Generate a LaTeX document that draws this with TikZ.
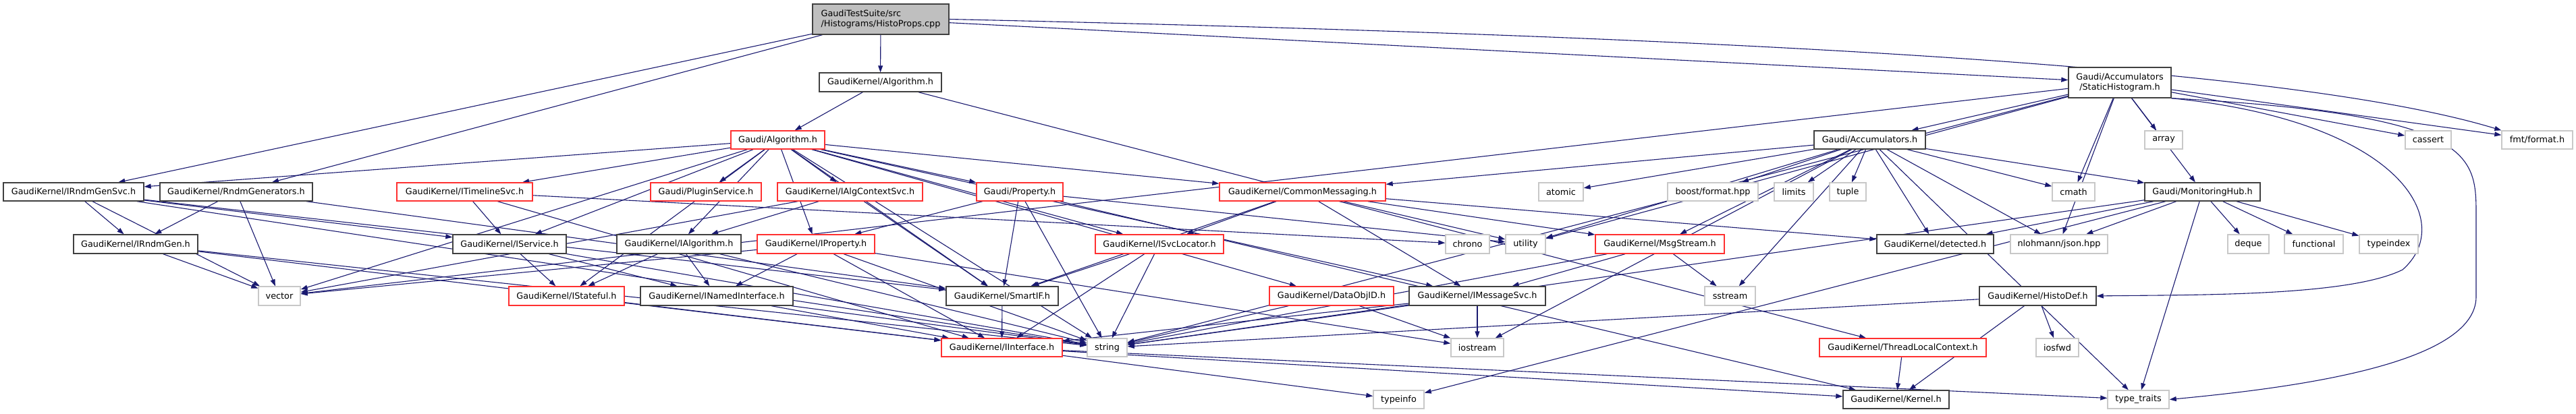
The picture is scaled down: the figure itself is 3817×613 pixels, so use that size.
\documentclass[tikz,border=0pt]{standalone}
\usepackage{fontspec}
\setmainfont{DejaVu Sans}
\usetikzlibrary{arrows.meta}
\definecolor{edgec}{HTML}{191970}
\definecolor{nodeblack}{HTML}{404040}
\definecolor{nodered}{HTML}{FF3030}
\definecolor{nodegray}{HTML}{C8C8C8}
\definecolor{rootfill}{HTML}{BFBFBF}
\newcommand\nf{\fontsize{12.8}{15.5}\selectfont}
\pgfdeclarelayer{bg}
\pgfdeclarelayer{edges}
\pgfsetlayers{bg,edges,main}
\tikzset{
  nb/.style={draw=nodeblack, line width=1.4pt, fill=white, inner sep=0pt, minimum height=27pt, font=\nf, text=black},
  nr/.style={nb, draw=nodered},
  ng/.style={nb, draw=nodegray},
  ed/.style={draw=edgec, line width=1.1pt, -{Triangle[length=10pt,width=7pt]}},
}
\begin{document}
\begin{tikzpicture}[x=1pt,y=-1pt]
\begin{pgfonlayer}{bg}
\fill[white] (0,0) rectangle (3817,613);
\end{pgfonlayer}
\useasboundingbox (0,0) rectangle (3817,613);
% row 0-1
\node[nb, fill=rootfill, minimum width=202pt, minimum height=45pt, align=left] (root) at (1305,28.5) {GaudiTestSuite/src\\/Histograms/HistoProps.cpp};
\node[nb, minimum width=181pt, minimum height=28pt] (gkalg) at (1304.5,122) {GaudiKernel/Algorithm.h};
\node[nb, minimum width=152pt, minimum height=45pt, align=center] (sh) at (3141,122.5) {Gaudi/Accumulators\\/StaticHistogram.h};
% row 2
\node[nr, minimum width=139pt] (galg) at (1152.5,207.5) {Gaudi/Algorithm.h};
\node[nb, minimum width=165pt] (acc) at (2770.5,207.5) {Gaudi/Accumulators.h};
\node[ng, minimum width=56pt] (array) at (3206,207.5) {array};
\node[ng, minimum width=68pt] (cassert) at (3598,207.5) {cassert};
\node[ng, minimum width=105pt] (fmt) at (3759.5,207.5) {fmt/format.h};
% row 3
\node[nb, minimum width=208pt] (irgs) at (109,284.5) {GaudiKernel/IRndmGenSvc.h};
\node[nb, minimum width=226pt] (rgen) at (350,284.5) {GaudiKernel/RndmGenerators.h};
\node[nr, minimum width=201pt] (itl) at (688.5,284.5) {GaudiKernel/ITimelineSvc.h};
\node[nr, minimum width=164pt] (plugin) at (1046,284.5) {Gaudi/PluginService.h};
\node[nr, minimum width=215pt] (iactx) at (1259.5,284.5) {GaudiKernel/IAlgContextSvc.h};
\node[nr, minimum width=128pt] (prop) at (1511,284.5) {Gaudi/Property.h};
\node[nr, minimum width=246pt] (cmsg) at (1930,284.5) {GaudiKernel/CommonMessaging.h};
\node[ng, minimum width=66pt] (atomic) at (2313,284.5) {atomic};
\node[ng, minimum width=134pt] (boost) at (2538,284.5) {boost/format.hpp};
\node[ng, minimum width=58pt] (limits) at (2658,284.5) {limits};
\node[ng, minimum width=54pt] (tuple) at (2738,284.5) {tuple};
\node[ng, minimum width=63pt] (cmath) at (3072.5,284.5) {cmath};
\node[nb, minimum width=171pt] (mh) at (3263.5,284.5) {Gaudi/MonitoringHub.h};
% row 4
\node[nb, minimum width=184pt, minimum height=28pt] (irg) at (201,362) {GaudiKernel/IRndmGen.h};
\node[nb, minimum width=168pt, minimum height=28pt] (isvc) at (755,362) {GaudiKernel/IService.h};
\node[nb, minimum width=184pt, minimum height=28pt] (ialg) at (1006,362) {GaudiKernel/IAlgorithm.h};
\node[nr, minimum width=174pt, minimum height=28pt] (iprop) at (1209,362) {GaudiKernel/IProperty.h};
\node[nr, minimum width=190pt, minimum height=28pt] (isl) at (1718,362) {GaudiKernel/ISvcLocator.h};
\node[ng, minimum width=65pt, minimum height=28pt] (chrono) at (2174.5,362) {chrono};
\node[ng, minimum width=59pt, minimum height=28pt] (utility) at (2260.5,362) {utility};
\node[nr, minimum width=191pt, minimum height=28pt] (msgs) at (2459.5,362) {GaudiKernel/MsgStream.h};
\node[nb, minimum width=173pt, minimum height=28pt] (detected) at (2867.5,362) {GaudiKernel/detected.h};
\node[ng, minimum width=144pt, minimum height=28pt] (json) at (3051,362) {nlohmann/json.hpp};
\node[ng, minimum width=61pt, minimum height=28pt] (deque) at (3331.5,362) {deque};
\node[ng, minimum width=87pt, minimum height=28pt] (functional) at (3428.5,362) {functional};
\node[ng, minimum width=87pt, minimum height=28pt] (typeindex) at (3539.5,362) {typeindex};
% row 5
\node[ng, minimum width=62pt, minimum height=28pt] (vector) at (414,439) {vector};
\node[nr, minimum width=171pt, minimum height=28pt] (istate) at (839.5,439) {GaudiKernel/IStateful.h};
\node[nb, minimum width=226pt, minimum height=28pt] (inamed) at (1062,439) {GaudiKernel/INamedInterface.h};
\node[nb, minimum width=166pt, minimum height=28pt] (smartif) at (1485,439) {GaudiKernel/SmartIF.h};
\node[nr, minimum width=184pt, minimum height=28pt] (dataobj) at (1973,439) {GaudiKernel/DataObjID.h};
\node[nb, minimum width=202pt, minimum height=28pt] (imsg) at (2189,439) {GaudiKernel/IMessageSvc.h};
\node[ng, minimum width=75pt, minimum height=28pt] (sstream) at (2563.5,439) {sstream};
\node[nb, minimum width=173pt, minimum height=28pt] (histodef) at (3019.5,439) {GaudiKernel/HistoDef.h};
% row 6
\node[nr, minimum width=179pt] (iif) at (1484.5,515.5) {GaudiKernel/IInterface.h};
\node[ng, minimum width=59pt] (string) at (1640.5,515.5) {string};
\node[ng, minimum width=78pt] (iostream) at (2189,515.5) {iostream};
\node[nr, minimum width=247pt] (tlc) at (2819.5,515.5) {GaudiKernel/ThreadLocalContext.h};
\node[ng, minimum width=63pt] (iosfwd) at (3048.5,515.5) {iosfwd};
% row 7
\node[ng, minimum width=75pt] (typeinfo) at (2072.5,592.5) {typeinfo};
\node[nb, minimum width=157pt] (kernel) at (2809.5,592.5) {GaudiKernel/Kernel.h};
\node[ng, minimum width=91pt] (ttraits) at (3168.5,592.5) {type\_traits};
% edges
\begin{pgfonlayer}{edges}
\foreach \a/\b in {root/irgs, root/rgen, root/gkalg, root/sh,
  gkalg/galg, gkalg/tlc,
  sh/acc, sh/array, sh/cassert, sh/fmt, sh/cmath, sh/mh, sh/vector, sh/utility, sh/json, sh/string,
  acc/cmsg, acc/atomic, acc/boost, acc/limits, acc/tuple, acc/cmath, acc/mh, acc/msgs, acc/detected, acc/json, acc/sstream, acc/iostream, acc/ttraits, acc/utility,
  galg/irgs, galg/itl, galg/plugin, galg/iactx, galg/prop, galg/cmsg, galg/isvc, galg/ialg, galg/iprop, galg/isl, galg/istate, galg/smartif, galg/dataobj, galg/imsg, galg/string, galg/vector,
  irgs/irg, irgs/vector, irgs/isvc, irgs/smartif, irgs/string,
  rgen/irg, rgen/vector, rgen/smartif,
  itl/isvc, itl/chrono, itl/iif,
  iactx/ialg, iactx/vector, iactx/smartif,
  prop/iprop, prop/smartif, prop/string, prop/utility, prop/kernel,
  cmsg/isl, cmsg/smartif, cmsg/imsg, cmsg/msgs, cmsg/utility, cmsg/detected,
  mh/detected, mh/json, mh/deque, mh/functional, mh/typeindex, mh/string, mh/typeinfo, mh/ttraits,
  irg/vector, irg/iif, irg/string,
  isvc/istate, isvc/inamed, isvc/string,
  ialg/istate, ialg/inamed, ialg/string,
  iprop/inamed, iprop/vector, iprop/iif, iprop/string, iprop/iostream,
  isl/smartif, isl/iif, isl/string,
  msgs/imsg, msgs/sstream, msgs/string,
  histodef/iosfwd, histodef/kernel, histodef/string,
  istate/iif, inamed/iif, inamed/string, smartif/iif,
  dataobj/string, dataobj/iostream,
  imsg/iif, imsg/string, imsg/iostream,
  tlc/kernel,
  iif/typeinfo, iif/kernel, iif/ttraits}
  \draw[ed] (\a) -- (\b);
% curved routes as in the reference
\draw[ed] (root.east) .. controls (2600,55) and (3400,100) .. (fmt.north west);
\draw[ed] (sh.south east) .. controls (3560,180) and (3640,330) .. (3560,400) .. controls (3480,440) and (3250,437) .. (histodef.east);
\draw[ed] (sh.south east) .. controls (3669,170) and (3669,230) .. (3669,320) -- (3669,440) .. controls (3669,540) and (3400,575) .. (ttraits.east);
\end{pgfonlayer}
\end{tikzpicture}
\end{document}
